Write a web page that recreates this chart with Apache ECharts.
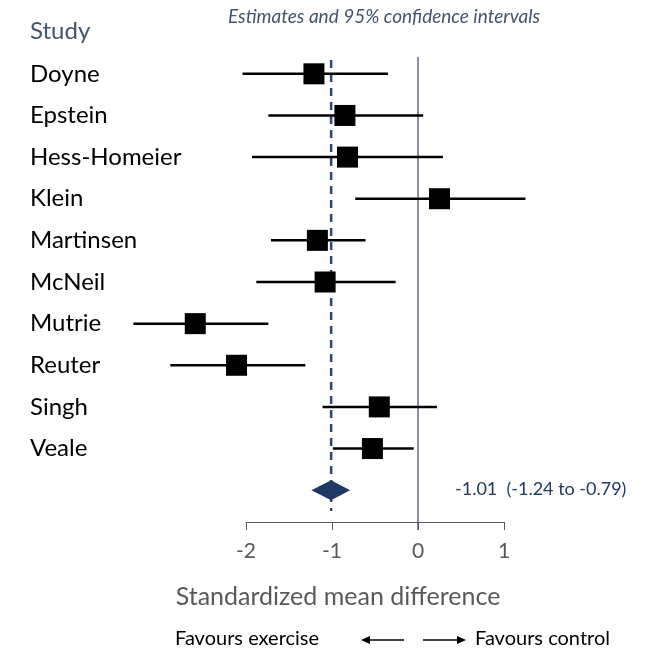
<!DOCTYPE html>
<html>
<head>
<meta charset="utf-8">
<script src="https://cdn.jsdelivr.net/npm/echarts@6/dist/echarts.min.js"></script>
<style>
    html, body { margin: 0; padding: 0; background: #fff; }
    #main { width: 656px; height: 650px; }
</style>
</head>
<body>
<div id="main"></div>
<script>
    // study data
    const studies = ['Doyne', 'Epstein', 'Hess-Homeier', 'Klein', 'Martinsen', 'McNeil', 'Mutrie', 'Reuter', 'Singh', 'Veale'];
    const estimates = [-1.21, -0.85, -0.82, 0.25, -1.17, -1.08, -2.59, -2.11, -0.45, -0.53];
    const lower = [-2.04, -1.74, -1.93, -0.73, -1.71, -1.88, -3.31, -2.88, -1.11, -0.99];
    const upper = [-0.35, 0.06, 0.29, 1.25, -0.61, -0.26, -1.74, -1.31, 0.22, -0.05];
    // pooled estimate
    const pooled = [-1.01, -1.24, -0.79];
    const xTicks = [-2, -1, 0, 1];

    const slate = '#44546a';
    const navy = '#1f3864';
    const grey = '#595959';
    const font = 'Lato, "Open Sans", sans-serif';

    const categories = studies.concat(['']);
    const studyData = studies.map((s, i) => [estimates[i], i, lower[i], upper[i]]);

    let myChart = echarts.init(document.getElementById('main'));

    const fmt = v => v.toFixed(2);

    myChart.setOption({
        animation: false,
        textStyle: {fontFamily: font},
        title: [
            {
                text: 'Estimates and 95% confidence intervals',
                left: 228, top: 7, padding: 0,
                textStyle: {fontSize: 19, fontStyle: 'italic', fontWeight: 'normal', color: slate, fontFamily: font}
            },
            {
                text: 'Study',
                left: 30, top: 19, padding: 0,
                textStyle: {fontSize: 24, fontWeight: 'normal', color: slate, fontFamily: font}
            },
            {
                text: fmt(pooled[0]) + '  (' + fmt(pooled[1]) + ' to ' + fmt(pooled[2]) + ')',
                left: 455, top: 480, padding: 0,
                textStyle: {fontSize: 18, fontWeight: 'normal', color: navy, fontFamily: font}
            },
            {
                text: 'Favours exercise',
                left: 175, top: 629, padding: 0,
                textStyle: {fontSize: 20, fontWeight: 'normal', color: '#000', fontFamily: font}
            },
            {
                text: 'Favours control',
                left: 475, top: 629, padding: 0,
                textStyle: {fontSize: 20, fontWeight: 'normal', color: '#000', fontFamily: font}
            }
        ],
        graphic: [
            // arrows under the axis
            {type: 'line', shape: {x1: 368, y1: 640, x2: 404, y2: 640}, style: {stroke: '#000', lineWidth: 1.3}},
            {type: 'polygon', shape: {points: [[361, 640], [370, 636], [370, 644]]}, style: {fill: '#000'}},
            {type: 'line', shape: {x1: 423, y1: 640, x2: 459, y2: 640}, style: {stroke: '#000', lineWidth: 1.3}},
            {type: 'polygon', shape: {points: [[466, 640], [457, 636], [457, 644]]}, style: {fill: '#000'}}
        ],
        grid: {
            left: 246,
            right: 152,
            top: 53,
            bottom: 139
        },
        xAxis: {
            type: 'value',
            min: xTicks[0],
            max: xTicks[xTicks.length - 1],
            interval: 1,
            offset: 11,
            splitLine: {show: false},
            axisLine: {show: true, lineStyle: {color: grey, width: 1}},
            axisTick: {show: true, length: 8, lineStyle: {color: grey}},
            axisLabel: {fontSize: 21, color: grey, margin: 19, fontFamily: font},
            name: 'Standardized mean difference',
            nameLocation: 'middle',
            nameGap: 62,
            nameTextStyle: {fontSize: 25, color: grey, fontFamily: font, padding: [0, 74, 0, 0]}
        },
        yAxis: {
            type: 'category',
            data: categories,
            inverse: true,
            axisLine: {show: false},
            axisTick: {show: false},
            splitLine: {show: false},
            axisLabel: {
                align: 'left',
                margin: 216,
                fontSize: 24,
                color: '#000',
                fontFamily: font
            }
        },
        series: [
            {
                // line of no effect
                type: 'custom',
                data: [[0]],
                encode: {x: 0},
                silent: true,
                renderItem: function (params, api) {
                    let cs = params.coordSys;
                    let x = api.coord([api.value(0), 0])[0];
                    return {
                        type: 'line',
                        shape: {x1: x, y1: cs.y + 4, x2: x, y2: cs.y + cs.height + 19},
                        style: {stroke: slate, lineWidth: 1.3}
                    };
                }
            },
            {
                // pooled estimate reference line
                type: 'custom',
                data: [[pooled[0]]],
                encode: {x: 0},
                silent: true,
                renderItem: function (params, api) {
                    let cs = params.coordSys;
                    let x = api.coord([api.value(0), 0])[0];
                    return {
                        type: 'line',
                        shape: {x1: x, y1: cs.y + 7, x2: x, y2: cs.y + cs.height},
                        style: {stroke: '#2d4570', lineWidth: 2.5, lineDash: [8, 6]}
                    };
                }
            },
            {
                name: 'studies',
                type: 'custom',
                data: studyData,
                encode: {x: [0, 2, 3], y: 1},
                renderItem: function (params, api) {
                    let row = api.value(1);
                    let c = api.coord([api.value(0), row]);
                    let lo = api.coord([api.value(2), row]);
                    let hi = api.coord([api.value(3), row]);
                    let s = 21;
                    return {
                        type: 'group',
                        children: [
                            {
                                type: 'line',
                                shape: {x1: lo[0], y1: lo[1], x2: hi[0], y2: hi[1]},
                                style: {stroke: '#000', lineWidth: 2.5}
                            },
                            {
                                type: 'rect',
                                shape: {x: c[0] - s / 2, y: c[1] - s / 2, width: s, height: s},
                                style: {fill: '#000'}
                            }
                        ]
                    };
                }
            },
            {
                name: 'pooled',
                type: 'custom',
                data: [[pooled[0], studies.length, pooled[1], pooled[2]]],
                encode: {x: [0, 2, 3], y: 1},
                renderItem: function (params, api) {
                    let row = api.value(1);
                    let c = api.coord([api.value(0), row]);
                    let lo = api.coord([api.value(2), row]);
                    let hi = api.coord([api.value(3), row]);
                    let h = 10;
                    return {
                        type: 'polygon',
                        shape: {points: [[lo[0], c[1]], [c[0], c[1] - h], [hi[0], c[1]], [c[0], c[1] + h]]},
                        style: {fill: navy}
                    };
                }
            }
        ]
    });
</script>
</body>
</html>
